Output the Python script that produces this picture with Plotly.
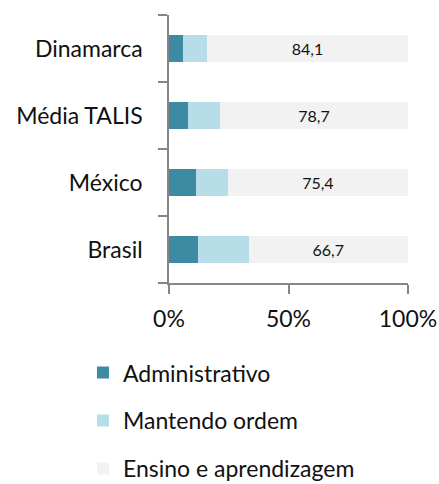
import plotly.graph_objects as go

categories = ["Brasil", "México", "Média TALIS", "Dinamarca"]
administrativo = [12.1, 11.3, 7.9, 5.9]
mantendo_ordem = [21.2, 13.3, 13.4, 10.0]
ensino = [66.7, 75.4, 78.7, 84.1]
series_names = ["Administrativo", "Mantendo ordem", "Ensino e aprendizagem"]
colors = ["#3C8BA3", "#B7DEE8", "#F2F2F2"]
x_ticks = [0, 50, 100]
x_tick_labels = ["0%", "50%", "100%"]

FONT = "Lato"
fig = go.Figure()
for i, (name, vals) in enumerate(zip(series_names, [administrativo, mantendo_ordem, ensino])):
    kw = {}
    if i == 2:
        kw = dict(text=[f"{v:.1f}".replace(".", ",") for v in vals],
                  textposition="inside", insidetextanchor="middle", textangle=0,
                  insidetextfont=dict(family=FONT, size=16, color="#111111"))
    fig.add_trace(go.Bar(
        y=categories, x=vals, name=name, orientation="h",
        marker=dict(color=colors[i], line=dict(width=0)),
        legendgroup=f"g{i}", **kw))

fig.update_layout(
    width=439, height=484,
    barmode="stack", bargap=0.6,
    plot_bgcolor="white", paper_bgcolor="white",
    margin=dict(l=169, r=31, t=15, b=201, autoexpand=False),
    font=dict(family=FONT, size=23, color="#111111"),
    legend=dict(
        traceorder="grouped", tracegroupgap=15,
        xref="container", yref="container",
        x=0.189, y=0.2745, xanchor="left", yanchor="top",
        font=dict(family=FONT, size=23, color="#111111"),
        bgcolor="rgba(0,0,0,0)", itemwidth=30,
    ),
    showlegend=True,
)
fig.update_xaxes(
    range=[0, 100], tickmode="array", tickvals=x_ticks, ticktext=x_tick_labels,
    showgrid=False, zeroline=False, automargin=False,
    showline=True, linecolor="#868686", linewidth=1.5,
    ticks="outside", ticklen=9, tickcolor="#868686", tickwidth=1.5,
    ticklabelstandoff=6,
    tickfont=dict(family=FONT, size=23, color="#111111"),
)
fig.update_yaxes(
    categoryorder="array", categoryarray=categories, range=[-0.5, 3.5],
    showgrid=False, zeroline=False, automargin=False,
    showline=True, linecolor="#868686", linewidth=1.5,
    ticks="outside", ticklen=9, tickcolor="#868686", tickwidth=1.5,
    tickson="boundaries", ticklabelstandoff=20,
    tickfont=dict(family=FONT, size=23, color="#111111"),
)
fig.write_html("out.html", config={"displayModeBar": False},
               post_script="document.body.style.margin='0';")
